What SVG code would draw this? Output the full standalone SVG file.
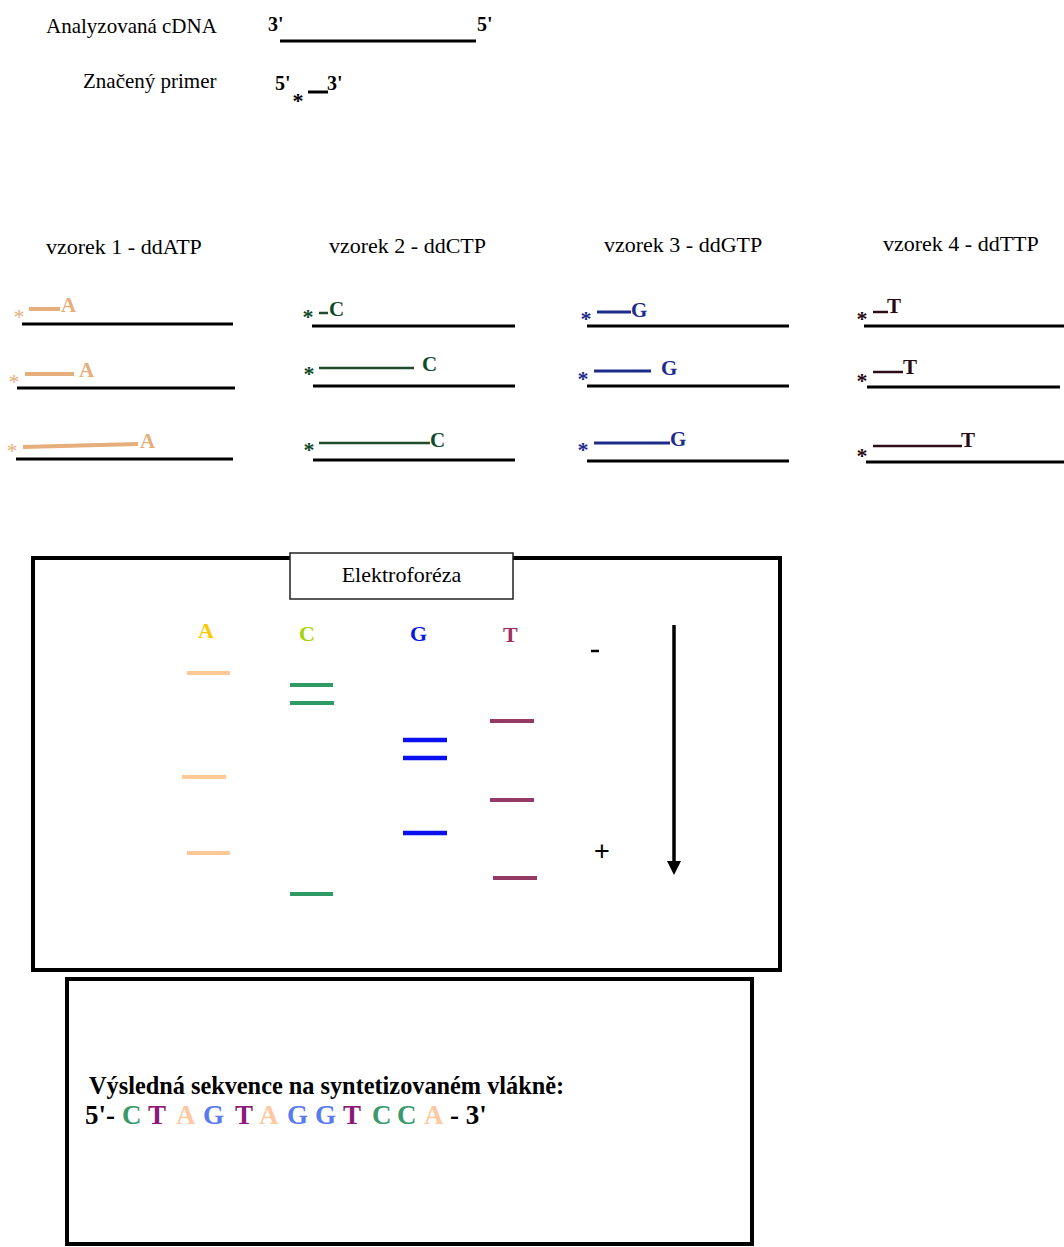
<svg xmlns="http://www.w3.org/2000/svg" width="1064" height="1247" viewBox="0 0 1064 1247">
<style>
.lbl{font-family:"Liberation Serif","Times New Roman",serif;font-size:21px;fill:#000}
.vz{font-family:"Liberation Serif","Times New Roman",serif;font-size:22px;fill:#000}
.bl{font-family:"Liberation Serif","Times New Roman",serif;font-size:20px;font-weight:bold;fill:#000}
.nuc{font-family:"Liberation Serif","Times New Roman",serif;font-size:21px;font-weight:bold}
.ast{font-family:"Liberation Serif","Times New Roman",serif;font-size:22px;font-weight:bold;text-anchor:middle}
.tpl{stroke:#000;stroke-width:3;fill:none}
.p1{stroke:#E6AE7A;stroke-width:4}
.p2{stroke:#1E4D2B;stroke-width:2.5}
.p3{stroke:#1C2C8C;stroke-width:3}
.p4{stroke:#2E0C18;stroke-width:2.5}
.c1{fill:#E6AE7A}.c2{fill:#0F4A2A}.c3{fill:#1C2C8C}.c4{fill:#2A0A14}
.box{fill:#fff;stroke:#000;stroke-width:4}
.bA{stroke:#FFC896;stroke-width:4}
.bC{stroke:#2E9A64;stroke-width:4}
.bG{stroke:#0A10F0;stroke-width:4.5}
.bT{stroke:#943A64;stroke-width:4}
.seq{font-family:"Liberation Serif","Times New Roman",serif;font-weight:bold;font-size:27px}
</style>
<rect width="1064" height="1247" fill="#fff"/>

<g id="cdna">
<text class="lbl" x="46" y="33">Analyzovaná cDNA</text>
<text class="bl" x="268" y="31">3'</text>
<line class="tpl" x1="280" y1="41" x2="476" y2="41"/>
<text class="bl" x="477" y="31">5'</text>
</g>
<g id="primer">
<text class="lbl" x="83" y="88">Značený primer</text>
<text class="bl" x="275" y="90">5'</text>
<text class="ast" x="298" y="108" fill="#000">*</text>
<line x1="308" y1="92" x2="328" y2="92" stroke="#000" stroke-width="3"/>
<text class="bl" x="327" y="90">3'</text>
</g>

<g id="sample1">
<text class="vz" x="46" y="254">vzorek 1 - ddATP</text>
<text class="ast c1" x="19" y="324" style="font-weight:normal">*</text>
<line class="p1" x1="29" y1="309" x2="60" y2="309"/>
<text class="nuc c1" x="61" y="312">A</text>
<line class="tpl" x1="22" y1="324" x2="233" y2="324"/>
<text class="ast c1" x="14" y="389" style="font-weight:normal">*</text>
<line class="p1" x1="25" y1="374" x2="74" y2="374"/>
<text class="nuc c1" x="79" y="377">A</text>
<line class="tpl" x1="17" y1="388" x2="235" y2="388"/>
<text class="ast c1" x="12" y="458" style="font-weight:normal">*</text>
<line class="p1" x1="23" y1="447" x2="138" y2="444"/>
<text class="nuc c1" x="140" y="448">A</text>
<line class="tpl" x1="16" y1="459" x2="233" y2="459"/>
</g>

<g id="sample2">
<text class="vz" x="329" y="253">vzorek 2 - ddCTP</text>
<text class="ast c2" x="308" y="324">*</text>
<line class="p2" x1="319" y1="313" x2="328" y2="313"/>
<text class="nuc c2" x="329" y="316">C</text>
<line class="tpl" x1="312" y1="326" x2="515" y2="326"/>
<text class="ast c2" x="309" y="381">*</text>
<line class="p2" x1="319" y1="368" x2="414" y2="368"/>
<text class="nuc c2" x="422" y="371">C</text>
<line class="tpl" x1="313" y1="386" x2="515" y2="386"/>
<text class="ast c2" x="309" y="457">*</text>
<line class="p2" x1="319" y1="443" x2="430" y2="443"/>
<text class="nuc c2" x="430" y="447">C</text>
<line class="tpl" x1="313" y1="460" x2="515" y2="460"/>
</g>

<g id="sample3">
<text class="vz" x="604" y="252">vzorek 3 - ddGTP</text>
<text class="ast c3" x="586" y="326">*</text>
<line class="p3" x1="597" y1="312" x2="631" y2="312"/>
<text class="nuc c3" x="631" y="317">G</text>
<line class="tpl" x1="587" y1="326" x2="789" y2="326"/>
<text class="ast c3" x="583" y="386">*</text>
<line class="p3" x1="594" y1="371" x2="651" y2="371"/>
<text class="nuc c3" x="661" y="375">G</text>
<line class="tpl" x1="587" y1="386" x2="789" y2="386"/>
<text class="ast c3" x="583" y="457">*</text>
<line class="p3" x1="594" y1="443" x2="670" y2="443"/>
<text class="nuc c3" x="670" y="446">G</text>
<line class="tpl" x1="587" y1="461" x2="789" y2="461"/>
</g>

<g id="sample4">
<text class="vz" x="883" y="251">vzorek 4 - ddTTP</text>
<text class="ast c4" x="862" y="326">*</text>
<line class="p4" x1="873" y1="312" x2="888" y2="312"/>
<text class="nuc c4" x="887" y="313">T</text>
<line class="tpl" x1="864" y1="326" x2="1064" y2="326"/>
<text class="ast c4" x="862" y="388">*</text>
<line class="p4" x1="873" y1="372" x2="903" y2="372"/>
<text class="nuc c4" x="903" y="374">T</text>
<line class="tpl" x1="867" y1="387" x2="1060" y2="387"/>
<text class="ast c4" x="862" y="463">*</text>
<line class="p4" x1="873" y1="446" x2="962" y2="446"/>
<text class="nuc c4" x="961" y="447">T</text>
<line class="tpl" x1="866" y1="462" x2="1064" y2="462"/>
</g>

<g id="gel">
<rect class="box" x="33" y="558" width="747" height="412"/>
<rect x="290" y="553" width="223" height="46" fill="#fff" stroke="#222" stroke-width="1.5"/>
<text class="vz" x="401.5" y="582" text-anchor="middle">Elektroforéza</text>
<text class="nuc" x="198" y="638" fill="#FFC800" style="font-size:22px">A</text>
<text class="nuc" x="299" y="641" fill="#A4D400" style="font-size:22px">C</text>
<text class="nuc" x="410" y="641" fill="#0A1AE0" style="font-size:22px">G</text>
<text class="nuc" x="503" y="642" fill="#A03060" style="font-size:22px">T</text>
<line class="bA" x1="187" y1="673" x2="230" y2="673"/>
<line class="bA" x1="182" y1="777" x2="226" y2="777"/>
<line class="bA" x1="187" y1="853" x2="230" y2="853"/>
<line class="bC" x1="290" y1="685" x2="333" y2="685"/>
<line class="bC" x1="290" y1="703" x2="334" y2="703"/>
<line class="bC" x1="290" y1="894" x2="333" y2="894"/>
<line class="bG" x1="403" y1="740" x2="447" y2="740"/>
<line class="bG" x1="403" y1="758" x2="447" y2="758"/>
<line class="bG" x1="403" y1="833" x2="447" y2="833"/>
<line class="bT" x1="490" y1="721" x2="534" y2="721"/>
<line class="bT" x1="490" y1="800" x2="534" y2="800"/>
<line class="bT" x1="493" y1="878" x2="537" y2="878"/>
<line x1="591" y1="651" x2="599" y2="651" stroke="#000" stroke-width="2.5"/>
<text x="602" y="860" text-anchor="middle" font-family="Liberation Sans, Arial, sans-serif" font-size="27px" fill="#000">+</text>
</g>

<g id="connectors">
<line x1="674" y1="625" x2="674" y2="864" stroke="#000" stroke-width="3.5"/>
<polygon points="667,861 681,861 674,875" fill="#000"/>
</g>

<g id="result">
<rect class="box" x="67" y="979" width="685" height="265"/>
<text class="seq" x="89" y="1094" style="font-size:24.3px" fill="#000">Výsledná sekvence na syntetizovaném vlákně:</text>
<text class="seq" y="1124">
<tspan x="85" fill="#000">5'-</tspan>
<tspan x="122" fill="#3A9A6A">C</tspan>
<tspan x="148" fill="#8A1A7A">T</tspan>
<tspan x="176" fill="#FFC8A0">A</tspan>
<tspan x="203" fill="#5A7AF0">G</tspan>
<tspan x="235" fill="#8A1A7A">T</tspan>
<tspan x="259" fill="#FFC8A0">A</tspan>
<tspan x="287" fill="#5A7AF0">G</tspan>
<tspan x="315" fill="#5A7AF0">G</tspan>
<tspan x="343" fill="#8A1A7A">T</tspan>
<tspan x="372" fill="#3A9A6A">C</tspan>
<tspan x="397" fill="#3A9A6A">C</tspan>
<tspan x="424" fill="#FFC8A0">A</tspan>
<tspan x="450" fill="#000">- 3'</tspan>
</text>
</g>
</svg>
